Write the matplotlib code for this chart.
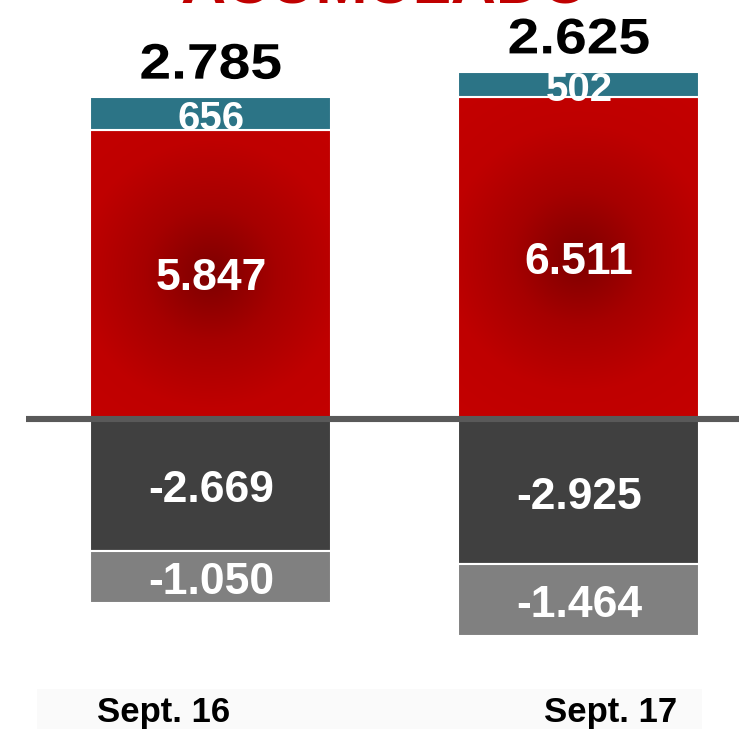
import numpy as np
import matplotlib
matplotlib.use("Agg")
import matplotlib.pyplot as plt
from matplotlib.colors import LinearSegmentedColormap
from matplotlib.patheffects import AbstractPathEffect
from matplotlib.transforms import Affine2D

# ---- data ----
categories = ["Sept. 16", "Sept. 17"]
pos_main = [5847, 6511]      # red
pos_extra = [656, 502]       # teal
neg_main = [-2669, -2925]    # dark gray
neg_extra = [-1050, -1464]   # light gray
totals = [2785, 2625]
title = "ACUMULADO"


def fmt(v):
    return f"{v:,}".replace(",", ".")


class StretchX(AbstractPathEffect):
    """Widen glyphs horizontally about their own centre."""
    def __init__(self, sx):
        super().__init__()
        self.sx = sx

    def draw_path(self, renderer, gc, tpath, affine, rgbFace=None):
        ext = tpath.get_extents(affine)
        cx = (ext.x0 + ext.x1) / 2
        new = affine + Affine2D().translate(-cx, 0).scale(self.sx, 1).translate(cx, 0)
        renderer.draw_path(gc, tpath, new, rgbFace)


plt.rcParams['font.family'] = ['Liberation Sans', 'DejaVu Sans']

W, H = 739, 729
fig = plt.figure(figsize=(W / 100, H / 100), dpi=100)
ax = fig.add_axes([0, 0, 1, 1])
XL = (-0.573, 1.435)
YL = (-6263, 8465)
ax.set_xlim(*XL)
ax.set_ylim(*YL)
ax.axis('off')

x = np.arange(len(categories))
bw = 0.655

# faint bottom band
ax.axhspan(YL[0], -5450, xmin=0.05, xmax=0.95, color='#fafafa', zorder=0, lw=0)

red_cmap = LinearSegmentedColormap.from_list("redrad", ["#7d0000", "#a60000", "#bf0000", "#c40000"])

pos_main_bars = ax.bar(x, pos_main, bw, color='none', edgecolor='white', lw=1.5, zorder=2)
px_per_x = W / (XL[1] - XL[0])
px_per_y = H / (YL[1] - YL[0])
for rect in pos_main_bars:
    x0, y0 = rect.get_x(), rect.get_y()
    w, h = rect.get_width(), rect.get_height()
    xs = np.linspace(x0, x0 + w, 200)
    ys = np.linspace(y0, y0 + h, 300)
    XX, YY = np.meshgrid(xs, ys)
    cx, cy = x0 + w / 2, y0 + h / 2
    r = np.sqrt(((XX - cx) * px_per_x) ** 2 + ((YY - cy) * px_per_y) ** 2) / 200.0
    r = np.clip(r, 0, 1)
    im = ax.imshow(r, extent=(x0, x0 + w, y0, y0 + h), origin='lower', cmap=red_cmap,
                   vmin=0, vmax=1, aspect='auto', zorder=1, interpolation='bilinear')
    im.set_clip_path(rect)

ax.bar(x, pos_extra, bw, bottom=pos_main, color='#2c7486', edgecolor='white', lw=1.5, zorder=2)
ax.bar(x, neg_main, bw, color='#404040', edgecolor='white', lw=1.5, zorder=2)
ax.bar(x, neg_extra, bw, bottom=neg_main, color='#808080', edgecolor='white', lw=1.5, zorder=2)

# zero line
ax.plot([-0.503, XL[1]], [0, 0], color='#595959', lw=4.4, zorder=3, solid_capstyle='butt')


def centred_label(xv, yv, s, size, color='white'):
    # baseline shifted so that the cap height is centred on (xv, yv)
    ax.annotate(s, (xv, yv), xytext=(0, -size * 0.716 / 2), textcoords='offset points',
                ha='center', va='baseline', fontsize=size, fontweight='bold',
                color=color, zorder=5)


for i in range(len(categories)):
    centred_label(x[i], pos_main[i] / 2, fmt(pos_main[i]), 32)
    centred_label(x[i], pos_main[i] + pos_extra[i] / 2 - 40, fmt(pos_extra[i]), 29)
    centred_label(x[i], neg_main[i] / 2 - 30, fmt(neg_main[i]), 32)
    centred_label(x[i], neg_main[i] + neg_extra[i] / 2 - 30, fmt(neg_extra[i]), 32)
    top = pos_main[i] + pos_extra[i]
    ax.annotate(fmt(totals[i]), (x[i], top), xytext=(0, 13.3), textcoords='offset points',
                ha='center', va='baseline', fontsize=36, fontweight='bold', color='black',
                zorder=5, path_effects=[StretchX(1.14)])

label_x = [-0.128, 1.087]
for lx, lab in zip(label_x, categories):
    ax.annotate(lab, (lx, -5880), xytext=(0, -25 * 0.716 / 2), textcoords='offset points',
                ha='center', va='baseline', fontsize=25, fontweight='bold', color='black')

fig.text(385 / W, 1 - 3 / H, title, ha='center', va='baseline', fontsize=45,
         fontweight='bold', color='#c00000')

fig.savefig("out.png", dpi=100)
